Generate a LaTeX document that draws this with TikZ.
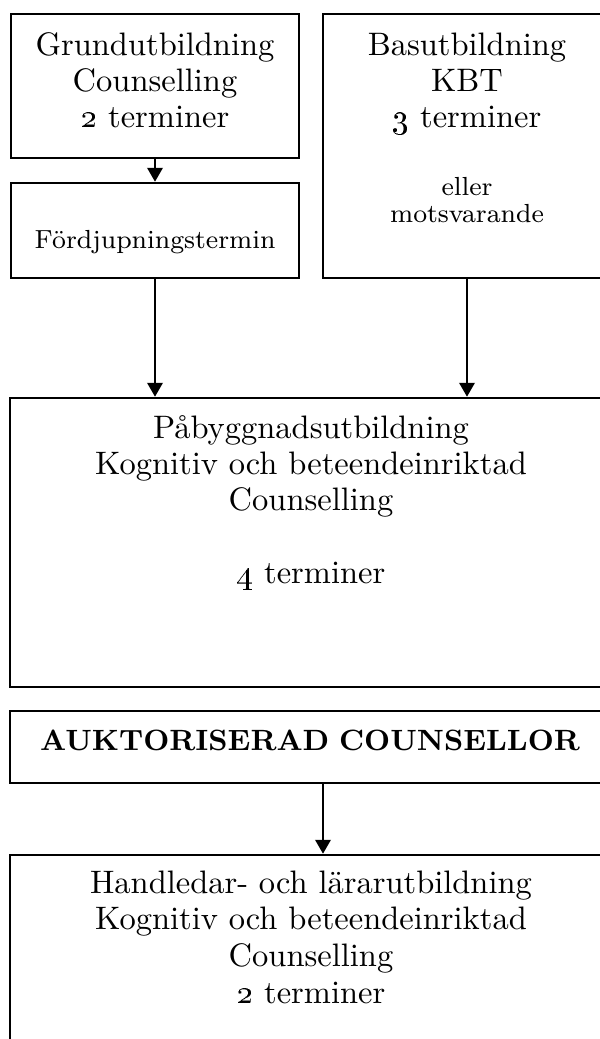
\documentclass[tikz,border=0pt]{standalone}
\usepackage{tikz}
\usetikzlibrary{arrows.meta}

\begin{document}
\begin{tikzpicture}
	 [x=0.3pt,y=-0.3pt,
	 box/.style={draw,rectangle,line width=0.75pt,inner sep=0pt},
	 txt/.style={align=center,anchor=base,inner sep=0pt,text width=180pt,font=\fontsize{9.75}{10.9}\selectfont},
	 small/.style={font=\fontsize{7.85}{8.1}\selectfont},
	 >={Triangle[length=4.2pt,width=4.6pt]}]
	\useasboundingbox (0,0) rectangle (600,1039);
	\clip (0,0) rectangle (600,1039);

	  \node (a)[box,minimum width=86.4pt,minimum height=43.2pt] at (155,86) {};
	  \node (b)[box,minimum width=86.4pt,minimum height=28.5pt] at (155,230.5) {};
	  \node (c)[box,minimum width=86.4pt,minimum height=79.2pt] at (467,146) {};
	  \node (d)[box,minimum width=187.8pt,minimum height=86.7pt] at (323,542.5) {};
	  \node (e)[box,minimum width=187.8pt,minimum height=21.6pt] at (323,747) {};
	  \node (f)[box,minimum width=187.8pt,minimum height=73.5pt] at (323,977.5) {};

	\node (ta)[txt] at (155,55) {Grundutbildning\\Counselling\\\oldstylenums{2} terminer};
	\node (tb)[txt,small] at (155,248) {Fördjupningstermin};
	\node (tc)[txt] at (467,55) {Basutbildning\\KBT\\\oldstylenums{3} terminer};
	\node (sc)[txt,small] at (467,195) {eller\\motsvarande};
	\node (td)[txt] at (311,438) {Påbyggnadsutbildning\\Kognitiv och beteendeinriktad\\Counselling\\[10.9pt]\oldstylenums{4} terminer};
	\node (te)[txt,font=\fontsize{8.8}{10}\selectfont\bfseries] at (310,750) {AUKTORISERAD COUNSELLOR};
	\node (tf)[txt,font=\fontsize{9.75}{11}\selectfont] at (311,893) {Handledar- och lärarutbildning\\Kognitiv och beteendeinriktad\\Counselling\\\oldstylenums{2} terminer};

	\foreach \from/\to in {a/b,b/d,c/d,e/f}
    \draw[->,line width=0.75pt] (\from) -- (\from |- \to.north);

\end{tikzpicture}
\end{document}
